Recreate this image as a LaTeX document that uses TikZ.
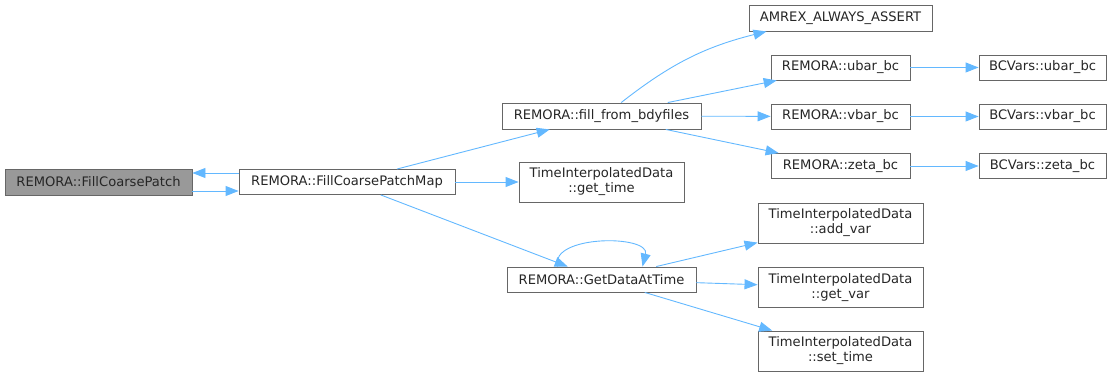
\documentclass[tikz,border=0pt]{standalone}
\usepackage{fontspec}
\setmainfont{DejaVu Sans}
\usetikzlibrary{arrows.meta}
\definecolor{edgeblue}{HTML}{63B8FF}
\definecolor{boxgray}{HTML}{666666}
\definecolor{hlgray}{HTML}{999999}
\tikzset{
  fn/.style={draw=boxgray, line width=0.9pt, fill=white, align=center, inner sep=0pt, minimum height=25pt, font=\fontsize{13.1}{15}\selectfont, text=black!85},
  hl/.style={fn, fill=hlgray},
  twoline/.style={fn, minimum width=165pt, minimum height=40pt},
  call/.style={draw=edgeblue, line width=0.9pt, -{Triangle[length=13pt,width=10pt]}}
}

\begin{document}
\begin{tikzpicture}[x=1pt, y=-1pt]
  \useasboundingbox (0,0) rectangle (1112,377);
  \node[hl, minimum width=187pt, minimum height=26pt] (patch) at (98.5,182) {REMORA::FillCoarsePatch};
  \node[fn, minimum width=216pt] (map) at (347,182) {REMORA::FillCoarsePatchMap};
  \node[fn, minimum width=199pt, minimum height=26pt] (bdy) at (601.5,116) {REMORA::fill\_from\_bdyfiles};
  \node[twoline] (gettime) at (601.5,182) {TimeInterpolatedData\\::get\_time};
  \node[fn, minimum width=189pt] (getdata) at (601.5,279.5) {REMORA::GetDataAtTime};
  \node[fn, minimum width=183pt, minimum height=26pt] (assert) at (840.5,18) {AMREX\_ALWAYS\_ASSERT};
  \node[fn, minimum width=139pt] (ubar) at (840.5,67.5) {REMORA::ubar\_bc};
  \node[fn, minimum width=139pt] (vbar) at (840.5,116.5) {REMORA::vbar\_bc};
  \node[fn, minimum width=139pt] (zeta) at (840.5,166) {REMORA::zeta\_bc};
  \node[fn, minimum width=127pt] (bcu) at (1042.5,67.5) {BCVars::ubar\_bc};
  \node[fn, minimum width=127pt] (bcv) at (1042.5,116.5) {BCVars::vbar\_bc};
  \node[fn, minimum width=127pt] (bcz) at (1042.5,166) {BCVars::zeta\_bc};
  \node[twoline] (addvar) at (840.5,223) {TimeInterpolatedData\\::add\_var};
  \node[twoline] (getvar) at (840.5,287.5) {TimeInterpolatedData\\::get\_var};
  \node[twoline] (settime) at (840.5,351) {TimeInterpolatedData\\::set\_time};

  \draw[call] ([yshift=9pt]map.west) -- ([yshift=9pt]patch.east);
  \draw[call] ([yshift=-9pt]patch.east) -- ([yshift=-9pt]map.west);
  \draw[call] (map) -- (bdy);
  \draw[call] (map) -- (gettime);
  \draw[call] (map) -- (getdata);
  \draw[call] (bdy) to[bend left=12] (assert);
  \draw[call] (bdy) -- (ubar);
  \draw[call] (bdy) -- (vbar);
  \draw[call] (bdy) -- (zeta);
  \draw[call] (ubar) -- (bcu);
  \draw[call] (vbar) -- (bcv);
  \draw[call] (zeta) -- (bcz);
  \draw[call] ([xshift=-44pt]getdata.north) .. controls +(-8,-32) and +(8,-32) .. ([xshift=41pt]getdata.north);
  \draw[call] (getdata) -- (addvar);
  \draw[call] (getdata) -- (getvar);
  \draw[call] (getdata) -- (settime);
\end{tikzpicture}
\end{document}
